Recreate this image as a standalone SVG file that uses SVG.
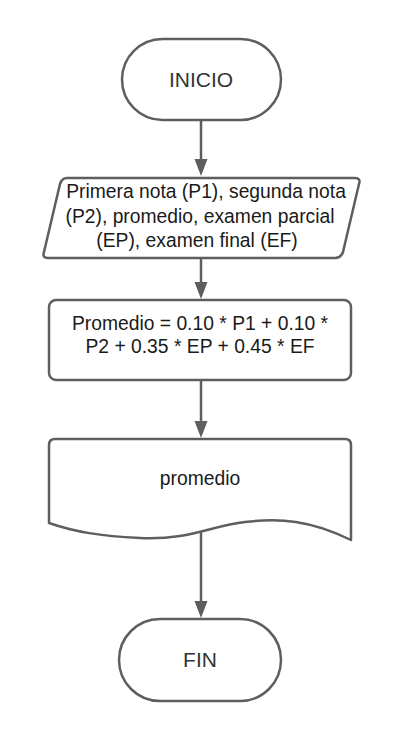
<svg xmlns="http://www.w3.org/2000/svg" width="400" height="740" viewBox="0 0 400 740">
<defs>
<style>
.s{fill:#fff;stroke:#5e5e5e;stroke-width:2.5;stroke-linejoin:round}
.c{fill:none;stroke:#5e5e5e;stroke-width:2.5}
.t{font-family:"Liberation Sans",Arial,sans-serif;font-size:19.3px;fill:#1a1a1a;text-anchor:middle}
.tb{font-size:21px;fill:#333}
</style>
</defs>
<rect width="400" height="740" fill="#fff"/>
<g id="connectors">
<path class="c" d="M201,120 V160"/>
<path d="M194.5,159 H207.5 L201,176 Z" fill="#5e5e5e"/>
<path class="c" d="M201,258 V282"/>
<path d="M194.5,282 H207.5 L201,299 Z" fill="#5e5e5e"/>
<path class="c" d="M201,380 V422"/>
<path d="M194.5,421 H207.5 L201,438 Z" fill="#5e5e5e"/>
<path class="c" d="M201,530 V601"/>
<path d="M194.5,601 H207.5 L201,618 Z" fill="#5e5e5e"/>
</g>
<g id="inicio">
<rect class="s" x="122" y="39" width="159" height="81" rx="40.5"/>
<text class="t tb" x="201" y="87">INICIO</text>
</g>
<g id="entrada">
<path class="s" d="M67,178 H355 Q361,178 359,184 L343,252 Q341,258 335,258 H48 Q42,258 44,252 L60,184 Q62,178 67,178 Z"/>
<text class="t" x="206" y="198">Primera nota (P1), segunda nota</text>
<text class="t" x="200" y="222.5">(P2), promedio, examen parcial</text>
<text class="t" x="197" y="247">(EP), examen final (EF)</text>
</g>
<g id="proceso">
<rect class="s" x="49" y="300" width="302" height="80" rx="7"/>
<text class="t" x="200" y="330">Promedio = 0.10 * P1 + 0.10 *</text>
<text class="t" x="200" y="353">P2 + 0.35 * EP + 0.45 * EF</text>
</g>
<g id="salida">
<path class="s" d="M55,439 H345 Q351,439 351,445 V540 C310,520 280,518 245,522 C210,526 190,540 140,538 C100,536 75,532 49,523 V445 Q49,439 55,439 Z"/>
<text class="t" x="200" y="485">promedio</text>
</g>
<g id="fin">
<rect class="s" x="119" y="619" width="162" height="82" rx="41"/>
<text class="t tb" x="200" y="667">FIN</text>
</g>
</svg>
